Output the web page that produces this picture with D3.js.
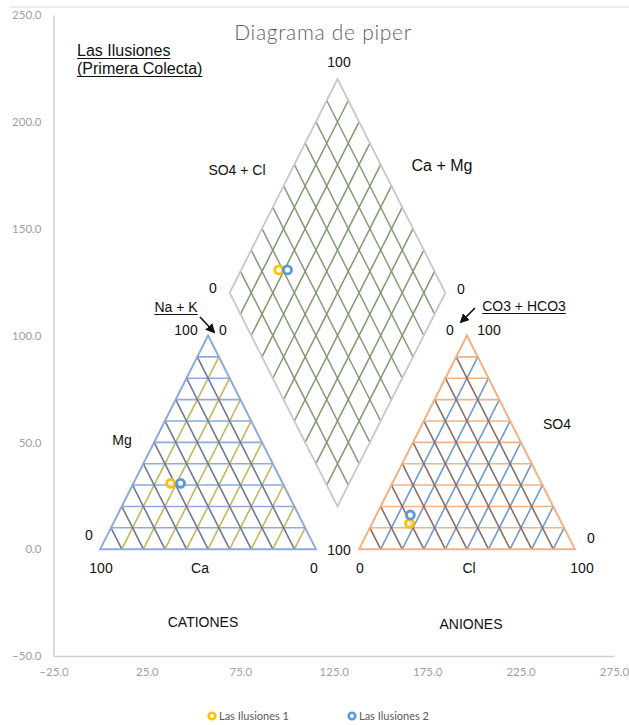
<!DOCTYPE html>
<html>
<head>
<meta charset="utf-8">
<script src="https://cdn.jsdelivr.net/npm/d3@7"></script>
<style>
  html, body { margin: 0; padding: 0; background: #fff; }
  svg { display: block; }
</style>
</head>
<body>
<svg id="chart" width="629" height="725"></svg>
<script>
// ---- data ----
const chartTitle = "Diagrama de piper";
const xTickValues = [-25, 25, 75, 125, 175, 225, 275];
const yTickValues = [-50, 0, 50, 100, 150, 200, 250];
const seriesNames = ["Las Ilusiones 1", "Las Ilusiones 2"];
const seriesColors = ["#FFC000", "#5B9BD5"];
const series1X = [37.7, 95.6, 165.6];
const series1Y = [30.8, 130.7, 12.1];
const series2X = [43.0, 100.2, 166.0];
const series2Y = [30.8, 130.7, 16.0];
// piper geometry (data units)
const triHeight = 100;
const triSide = 200 / Math.sqrt(3);       // 115.47
const triGap = 0.2 * triSide;             // 23.09
const divisions = 10;

// ---- layout ----
const svg = d3.select("#chart");
const x = d3.scaleLinear().domain([-25, 275]).range([53.5, 614]);
const y = d3.scaleLinear().domain([-50, 250]).range([656, 15]);

// top border line
svg.append("line").attr("x1", 10).attr("x2", 629).attr("y1", 7).attr("y2", 7)
  .attr("stroke", "#D9D9D9").attr("stroke-width", 1);

// axes
const tickFont = "Lato, 'Open Sans', sans-serif";
const xAxis = svg.append("g").attr("transform", `translate(0,${y(-50)})`)
  .call(d3.axisBottom(x).tickValues(xTickValues).tickFormat(d3.format(".1f")).tickSize(0).tickPadding(12));
const yAxis = svg.append("g").attr("transform", `translate(${x(-25)},0)`)
  .call(d3.axisLeft(y).tickValues(yTickValues).tickFormat(d3.format(".1f")).tickSize(0).tickPadding(12));
[xAxis, yAxis].forEach(a => {
  a.select(".domain").attr("stroke", "#D0D0D0").attr("stroke-width", 1.5);
  a.selectAll("text").attr("fill", "#A0A0A0").style("font-family", tickFont).style("font-size", "11.5px");
});

// ---- grids ----
const line = d3.line().x(d => x(d[0])).y(d => y(d[1]));
const g = svg.append("g").attr("fill", "none").attr("stroke-linecap", "round");

function triangle(x0, cH, cA, cB, cBorder) {
  const s = triSide, h = triHeight;
  const segs = [];
  for (let i = 1; i < divisions; i++) {
    const t = i / divisions;
    segs.push({p: [[x0 + t * s / 2, t * h], [x0 + s - t * s / 2, t * h]], c: cH});
  }
  for (let i = 1; i < divisions; i++) {
    const t = i / divisions;
    segs.push({p: [[x0 + t * s, 0], [x0 + (s + t * s) / 2, (1 - t) * h]], c: cB});
  }
  for (let i = 1; i < divisions; i++) {
    const t = i / divisions;
    segs.push({p: [[x0 + t * s, 0], [x0 + t * s / 2, t * h]], c: cA});
  }
  segs.forEach(sg => g.append("path").attr("d", line(sg.p)).attr("stroke", sg.c).attr("stroke-width", 1.6));
  g.append("path").attr("d", line([[x0, 0], [x0 + s, 0], [x0 + s / 2, h]]) + "Z")
    .attr("stroke", cBorder).attr("stroke-width", 2).attr("stroke-linejoin", "miter");
}

// left (cations)
triangle(0, "#8FAADC", "#6C7A98", "#C8B55C", "#8FAADC");
// right (anions)
triangle(triSide + triGap, "#F4B183", "#86706A", "#6E9BD0", "#F4B183");

// diamond
(function () {
  const s = triSide, h = triHeight;
  const bx = triSide + triGap / 2, by = triGap / 2 * Math.sqrt(3);
  const bottom = [bx, by], left = [bx - s / 2, by + h], right = [bx + s / 2, by + h], top = [bx, by + 2 * h];
  for (let i = 1; i < divisions; i++) {
    const t = i / divisions;
    const a = [bx + t * s / 2, by + t * h];
    g.append("path").attr("d", line([a, [a[0] - s / 2, a[1] + h]])).attr("stroke", "#8A9A80").attr("stroke-width", 1.5);
  }
  for (let i = 1; i < divisions; i++) {
    const t = i / divisions;
    const a = [bx - t * s / 2, by + t * h];
    g.append("path").attr("d", line([a, [a[0] + s / 2, a[1] + h]])).attr("stroke", "#7E9C68").attr("stroke-width", 1.5);
  }
  g.append("path").attr("d", line([bottom, right, top, left]) + "Z")
    .attr("stroke", "#C8C8C8").attr("stroke-width", 1.8);
})();

// ---- points ----
const allSeries = [
  {name: seriesNames[0], color: seriesColors[0], xs: series1X, ys: series1Y},
  {name: seriesNames[1], color: seriesColors[1], xs: series2X, ys: series2Y}
];
allSeries.forEach(sr => {
  svg.append("g").selectAll("circle").data(sr.xs.map((v, i) => [v, sr.ys[i]])).join("circle")
    .attr("cx", d => x(d[0])).attr("cy", d => y(d[1])).attr("r", 4)
    .attr("fill", "#FFFFFF").attr("fill-opacity", 0.7)
    .attr("stroke", sr.color).attr("stroke-width", 2.9);
});

// ---- annotations ----
const annFont = "'Liberation Sans', Arial, sans-serif";
const notes = [
  {t: "Las Ilusiones", x: 77, y: 56, size: 16, anchor: "start", u: true},
  {t: "(Primera Colecta)", x: 77, y: 74, size: 16, anchor: "start", u: true},
  {t: "100", x: 339, y: 67, size: 14},
  {t: "SO4 + Cl", x: 237, y: 175, size: 14},
  {t: "Ca + Mg", x: 442, y: 171, size: 16},
  {t: "0", x: 213, y: 293, size: 14},
  {t: "0", x: 461, y: 294, size: 14},
  {t: "Na + K", x: 176, y: 312, size: 14, u: true},
  {t: "100", x: 186, y: 335, size: 14},
  {t: "0", x: 223, y: 335, size: 14},
  {t: "CO3 + HCO3", x: 524, y: 311, size: 14, u: true},
  {t: "0", x: 450, y: 335, size: 14},
  {t: "100", x: 489, y: 335, size: 14},
  {t: "Mg", x: 122, y: 445, size: 14},
  {t: "0", x: 89, y: 540, size: 14},
  {t: "100", x: 101, y: 573, size: 14},
  {t: "Ca", x: 200, y: 573, size: 14},
  {t: "0", x: 314, y: 573, size: 14},
  {t: "SO4", x: 557, y: 429, size: 14},
  {t: "0", x: 591, y: 543, size: 14},
  {t: "100", x: 339, y: 555, size: 14},
  {t: "0", x: 360, y: 573, size: 14},
  {t: "Cl", x: 469, y: 573, size: 14},
  {t: "100", x: 582, y: 573, size: 14},
  {t: "CATIONES", x: 203, y: 627, size: 14},
  {t: "ANIONES", x: 471, y: 629, size: 14}
];
notes.forEach(n => {
  const el = svg.append("text").attr("x", n.x).attr("y", n.y)
    .attr("text-anchor", n.anchor || "middle")
    .style("font-family", annFont).style("font-size", n.size + "px").attr("fill", "#111")
    .text(n.t);
  if (n.u) {
    const w = el.node().getComputedTextLength();
    const x0 = (n.anchor === "start") ? n.x : n.x - w / 2;
    svg.append("line").attr("x1", x0).attr("x2", x0 + w)
      .attr("y1", n.y + 2.5).attr("y2", n.y + 2.5).attr("stroke", "#111").attr("stroke-width", 1.1);
  }
});

// arrows
const defs = svg.append("defs");
defs.append("marker").attr("id", "arr").attr("viewBox", "0 0 10 10").attr("refX", 8).attr("refY", 5)
  .attr("markerWidth", 6).attr("markerHeight", 6).attr("orient", "auto")
  .append("path").attr("d", "M0,0 L10,5 L0,10 Z").attr("fill", "#111");
[[200, 317, 214, 332], [475, 308, 461, 322]].forEach(a => {
  svg.append("line").attr("x1", a[0]).attr("y1", a[1]).attr("x2", a[2]).attr("y2", a[3])
    .attr("stroke", "#111").attr("stroke-width", 1.6).attr("marker-end", "url(#arr)");
});

// title
svg.append("text").attr("x", 323).attr("y", 40).attr("text-anchor", "middle")
  .style("font-family", "Lato, 'Open Sans', sans-serif").style("font-size", "21px").style("font-weight", 300)
  .attr("fill", "#5F5F5F").attr("letter-spacing", 0.7).text(chartTitle);

// legend
const legendPos = [212, 352];
allSeries.forEach((sr, i) => {
  svg.append("circle").attr("cx", legendPos[i]).attr("cy", 716).attr("r", 3.3)
    .attr("fill", "#fff").attr("stroke", sr.color).attr("stroke-width", 2.6);
  svg.append("text").attr("x", legendPos[i] + 7).attr("y", 720)
    .style("font-family", tickFont).style("font-size", "11px").attr("fill", "#595959").text(sr.name);
});
</script>
</body>
</html>
